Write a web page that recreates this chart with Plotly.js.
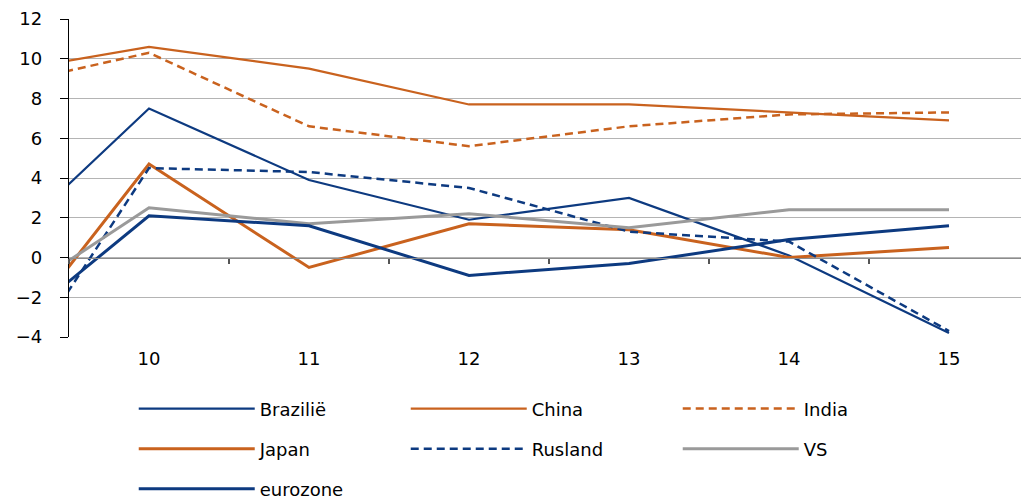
<!DOCTYPE html>
<html><head><meta charset="utf-8">
<script src="https://cdn.plot.ly/plotly-3.0.1.min.js"></script>
<style>html,body{margin:0;padding:0;background:#fff}</style>
</head><body><div id="chart" style="width:1023px;height:500px"></div>
<script>
const years = [9, 10, 11, 12, 13, 14, 15];
const tickLabels = ['10', '11', '12', '13', '14', '15'];
const brazilie = [-0.1, 7.5, 3.9, 1.9, 3.0, 0.1, -3.8];
const china = [9.2, 10.6, 9.5, 7.7, 7.7, 7.3, 6.9];
const india = [8.5, 10.3, 6.6, 5.6, 6.6, 7.2, 7.3];
const japan = [-5.6, 4.7, -0.5, 1.7, 1.4, 0.0, 0.5];
const rusland = [-7.8, 4.5, 4.3, 3.5, 1.3, 0.8, -3.7];
const vs = [-2.8, 2.5, 1.7, 2.2, 1.5, 2.4, 2.4];
const eurozone = [-4.5, 2.1, 1.6, -0.9, -0.3, 0.9, 1.6];

const BLUE = '#0d3a80', ORANGE = '#c9621e', GRAY = '#9a9a9a';
const FONT = 'DejaVu Sans, Arial, sans-serif';

function tr(name, y, color, width, dash, legend) {
  return {x: years, y: y, name: name, type: 'scatter', mode: 'lines',
    line: {color: color, width: width, dash: dash || 'solid'},
    legend: legend, hoverinfo: 'skip', cliponaxis: true};
}
const data = [
  tr('Brazilië', brazilie, BLUE, 2.2, null, 'legend'),
  tr('China', china, ORANGE, 2.2, null, 'legend'),
  tr('India', india, ORANGE, 2.5, '8px,5px', 'legend'),
  tr('Japan', japan, ORANGE, 3, null, 'legend2'),
  tr('Rusland', rusland, BLUE, 2.5, '8px,5px', 'legend2'),
  tr('VS', vs, GRAY, 3, null, 'legend2'),
  tr('eurozone', eurozone, BLUE, 3, null, 'legend3'),
  {x: years, y: years.map(() => null), xaxis: 'x2', showlegend: false, hoverinfo: 'skip', mode: 'lines'}
];

const legendBase = {orientation: 'h', xanchor: 'left', yanchor: 'middle', x: 0.068,
  font: {family: FONT, size: 18, color: '#000'}, entrywidth: 141, entrywidthmode: 'pixels',
  itemwidth: 116, bgcolor: 'rgba(0,0,0,0)', traceorder: 'normal'};

const layout = {
  width: 1023, height: 500,
  margin: {l: 69, r: 2, t: 19, b: 163, autoexpand: false},
  paper_bgcolor: '#fff', plot_bgcolor: '#fff',
  showlegend: true,
  font: {family: FONT, size: 18, color: '#000'},
  xaxis: {range: [9.5, 15.45], tickmode: 'array', tickvals: years.slice(1), ticktext: tickLabels,
    showgrid: false, zeroline: false, showline: false, ticks: '', ticklabelstandoff: 9,
    tickfont: {family: FONT, size: 18, color: '#000'}, fixedrange: true},
  xaxis2: {overlaying: 'x', matches: 'x', anchor: 'free', position: 0.25, showgrid: false,
    zeroline: false, showline: true, linecolor: '#8c8c8c', linewidth: 1.5,
    tickmode: 'linear', tick0: 10.5, dtick: 1, ticks: 'outside', ticklen: 5, tickwidth: 1.5,
    tickcolor: '#555', showticklabels: false, side: 'bottom'},
  yaxis: {range: [-4, 12], dtick: 2, tick0: 0, showgrid: true, gridcolor: '#b4b4b4', gridwidth: 1,
    zeroline: false, showline: true, linecolor: '#000', linewidth: 1.2,
    ticks: 'outside', ticklen: 8, tickcolor: '#000', ticklabelstandoff: 14,
    tickfont: {family: FONT, size: 18, color: '#000'}, fixedrange: true},
  legend: Object.assign({}, legendBase, {y: -0.226}),
  legend2: Object.assign({}, legendBase, {y: -0.352}),
  legend3: Object.assign({}, legendBase, {y: -0.478})
};
Plotly.newPlot('chart', data, layout, {displayModeBar: false, staticPlot: true});
</script></body></html>
